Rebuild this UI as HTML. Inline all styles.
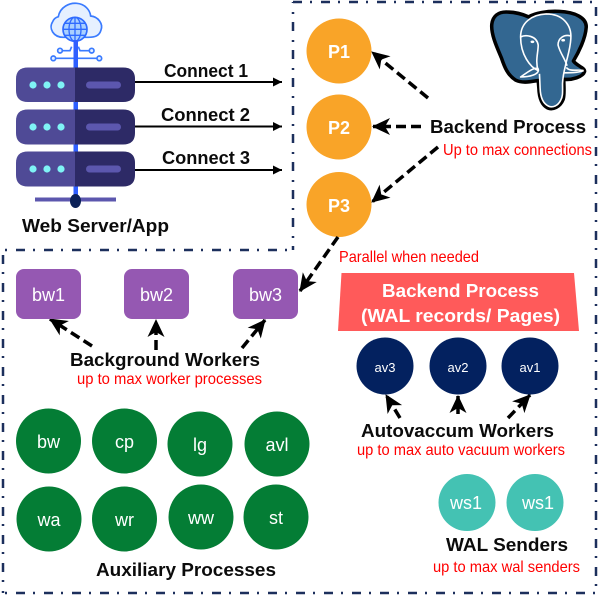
<!DOCTYPE html>
<html><head><meta charset="utf-8"><style>
html,body{margin:0;padding:0;background:#fff}
svg{display:block}
text{font-family:"Liberation Sans",sans-serif}
.b{font-weight:bold;fill:#0b0b0b;font-size:18px}
.r{fill:#f00;font-size:16px}
.w{fill:#fff;text-anchor:middle;font-size:18px}
</style></head><body>
<svg width="600" height="596" viewBox="0 0 600 596" xmlns="http://www.w3.org/2000/svg">
<defs>
<marker id="a" markerUnits="userSpaceOnUse" markerWidth="24" markerHeight="24" refX="19" refY="12" orient="auto"><path d="M20,12L2,3.500L7,12L2,20.500Z" fill="#000"/></marker>
<marker id="t" markerUnits="userSpaceOnUse" markerWidth="12" markerHeight="12" refX="10" refY="6" orient="auto"><path d="M10,6L1,1.500V10.500Z" fill="#000"/></marker>
</defs>

<!-- dashed frame -->
<g fill="none" stroke="#1c2f5c" stroke-width="2.500" stroke-dasharray="9 8 2 9">
<path d="M293,250V2" stroke-dashoffset="5"/>
<path d="M293,2H596"/>
<path d="M596,2V593" stroke-dashoffset="23"/>
<path d="M3,593H596" stroke-dashoffset="15"/>
<path d="M3,250V593" stroke-dashoffset="23"/>
<path d="M3,250H293" stroke-dashoffset="15"/>
</g>

<!-- cloud + globe -->
<g transform="translate(40,0) scale(0.3333)">
<path d="M70,112C40,112 25,85 38,65C42,55 48,52 55,50C60,20 90,8 110,10C135,12 150,30 152,48C175,50 190,72 183,90C178,108 165,112 145,112Z" fill="#e6f0ff" stroke="#3a7bff" stroke-width="5"/>
<path d="M95,140L90,152H66M115,140L120,152H149M46,175H178" fill="none" stroke="#3a7bff" stroke-width="5"/>
<g fill="#e6f0ff" stroke="#3a7bff" stroke-width="5"><circle cx="60" cy="152" r="7"/><circle cx="155" cy="152" r="7"/><circle cx="40" cy="175" r="7"/><circle cx="178" cy="175" r="7"/></g>
<circle cx="105" cy="88" r="36" fill="#a9d0ff" stroke="#2f6bff" stroke-width="5"/>
<path d="M105,52V124M69,88H141M75,70H135M75,106H135" stroke="#2f6bff" stroke-width="4" fill="none"/>
<ellipse cx="105" cy="88" rx="18" ry="36" fill="none" stroke="#2f6bff" stroke-width="4"/>
</g>
<rect x="73.500" y="40" width="4.500" height="159" fill="#2f5fff"/>

<!-- server -->
<g>
<path d="M75,67.500H28Q16,67.500 16,79V90.500Q16,102 28,102H75Z" fill="#4f4a96"/>
<path d="M75,67.500H123Q135,67.500 135,79V90.500Q135,102 123,102H75Z" fill="#2d2a66"/>
<circle cx="33" cy="85" r="3.600" fill="#7ff3f5"/><circle cx="47" cy="85" r="3.600" fill="#7ff3f5"/><circle cx="61" cy="85" r="3.600" fill="#7ff3f5"/>
<rect x="86" y="81.500" width="35" height="7" rx="3.500" fill="#5c57ae"/>
</g>
<g>
<path d="M75,109.500H28Q16,109.500 16,121V133Q16,144.500 28,144.500H75Z" fill="#4f4a96"/>
<path d="M75,109.500H123Q135,109.500 135,121V133Q135,144.500 123,144.500H75Z" fill="#2d2a66"/>
<circle cx="33" cy="127" r="3.600" fill="#7ff3f5"/><circle cx="47" cy="127" r="3.600" fill="#7ff3f5"/><circle cx="61" cy="127" r="3.600" fill="#7ff3f5"/>
<rect x="86" y="123.500" width="35" height="7" rx="3.500" fill="#5c57ae"/>
</g>
<g>
<path d="M75,151.500H28Q16,151.500 16,163V175Q16,186.500 28,186.500H75Z" fill="#4f4a96"/>
<path d="M75,151.500H123Q135,151.500 135,163V175Q135,186.500 123,186.500H75Z" fill="#2d2a66"/>
<circle cx="33" cy="169" r="3.600" fill="#7ff3f5"/><circle cx="47" cy="169" r="3.600" fill="#7ff3f5"/><circle cx="61" cy="169" r="3.600" fill="#7ff3f5"/>
<rect x="86" y="165.500" width="35" height="7" rx="3.500" fill="#5c57ae"/>
</g>
<rect x="35" y="197.500" width="81" height="4" fill="#5c57ae"/>
<ellipse cx="75.500" cy="201" rx="5.500" ry="7" fill="#0b2158"/>

<!-- connect arrows -->
<g stroke="#000" stroke-width="2" fill="none">
<path d="M135,82H282" marker-end="url(#t)"/>
<path d="M135,126.500H282" marker-end="url(#t)"/>
<path d="M135,170H282" marker-end="url(#t)"/>
</g>
<text class="b" x="164" y="77" textLength="84" lengthAdjust="spacingAndGlyphs">Connect 1</text>
<text class="b" x="161" y="121" textLength="89" lengthAdjust="spacingAndGlyphs">Connect 2</text>
<text class="b" x="162" y="164" textLength="88" lengthAdjust="spacingAndGlyphs">Connect 3</text>
<text class="b" x="22" y="232" textLength="147" lengthAdjust="spacingAndGlyphs">Web Server/App</text>

<!-- elephant -->
<g transform="translate(487,5) scale(0.32)" stroke-linejoin="round">
<path d="M15,60C18,35 35,22 60,22C85,22 110,28 130,37C150,25 190,18 225,20C275,22 312,40 310,70C308,105 285,150 270,175C280,190 305,195 305,208C300,225 265,235 240,232C240,255 243,280 238,295C228,320 205,328 190,322C170,312 163,290 162,260L160,236C135,240 110,245 90,235C65,220 55,195 45,165C30,130 12,90 15,60Z" fill="#336791" stroke="#000" stroke-width="11"/>
<g fill="none" stroke="#fff" stroke-width="5">
<path d="M160,205C135,195 105,155 105,100C105,55 140,30 185,28C235,28 265,60 262,105C260,140 250,165 245,190C240,210 237,225 236,245C236,270 238,285 230,298C222,315 205,322 192,316C175,308 167,290 166,260L164,215"/>
<path d="M105,100C120,92 155,95 160,125C160,150 150,175 160,205"/>
<path d="M262,97C240,90 222,105 222,125C228,150 245,170 250,190"/>
<path d="M105,225C130,225 165,218 160,200C150,190 120,215 105,225Z"/>
<path d="M248,195C258,210 285,200 302,205"/>
<path d="M240,212C260,212 285,212 302,205"/>
</g>
<ellipse cx="142" cy="115" rx="6" ry="4" fill="#fff"/><ellipse cx="238" cy="110" rx="6" ry="4" fill="#fff"/>
</g>

<!-- P circles -->
<circle cx="339" cy="51" r="32.500" fill="#f9a428"/>
<circle cx="339" cy="127" r="32.500" fill="#f9a428"/>
<circle cx="339" cy="204.500" r="32.500" fill="#f9a428"/>
<text class="w" x="339" y="58" font-weight="bold">P1</text>
<text class="w" x="339" y="134" font-weight="bold">P2</text>
<text class="w" x="339" y="212" font-weight="bold">P3</text>

<!-- dashed arrows -->
<g stroke="#000" stroke-width="3.500" stroke-dasharray="10 5" fill="none">
<path d="M428,98L372,52" marker-end="url(#a)"/>
<path d="M421,126.500H373" marker-end="url(#a)"/>
<path d="M438,147L372,202" marker-end="url(#a)"/>
<path d="M338,237L300,291" marker-end="url(#a)"/>
<path d="M92,346L50,319" marker-end="url(#a)"/>
<path d="M156,350V320" marker-end="url(#a)"/>
<path d="M242,348L265,320" marker-end="url(#a)"/>
<path d="M400,418L386,395" marker-end="url(#a)"/>
<path d="M458,414V396" marker-end="url(#a)" stroke-dasharray="none"/>
<path d="M508,418L530,395" marker-end="url(#a)"/>
</g>

<text class="b" x="430" y="133" textLength="156" lengthAdjust="spacingAndGlyphs">Backend Process</text>
<text class="r" x="443" y="155" textLength="149" lengthAdjust="spacingAndGlyphs">Up to max connections</text>
<text class="r" x="339" y="262" textLength="140" lengthAdjust="spacingAndGlyphs">Parallel when needed</text>

<!-- bw boxes -->
<rect x="16" y="269" width="65" height="50" rx="8" fill="#9558b2"/>
<rect x="124" y="269" width="65" height="50" rx="8" fill="#9558b2"/>
<rect x="233" y="269" width="65" height="50" rx="8" fill="#9558b2"/>
<text class="w" x="48.500" y="301">bw1</text>
<text class="w" x="156.500" y="301">bw2</text>
<text class="w" x="265.500" y="301">bw3</text>
<text class="b" x="70" y="366" textLength="190" lengthAdjust="spacingAndGlyphs">Background Workers</text>
<text class="r" x="77" y="384" textLength="185" lengthAdjust="spacingAndGlyphs">up to max worker processes</text>

<!-- green circles -->
<g fill="#047d35">
<circle cx="48.500" cy="441" r="32.500"/><circle cx="124.500" cy="441" r="32.500"/><circle cx="200" cy="444" r="32.500"/><circle cx="277" cy="444" r="32.500"/>
<circle cx="49" cy="519" r="32.500"/><circle cx="124.500" cy="519" r="32.500"/><circle cx="201" cy="517" r="32.500"/><circle cx="276" cy="517" r="32.500"/>
</g>
<text class="w" x="48.500" y="448">bw</text><text class="w" x="124.500" y="448">cp</text><text class="w" x="200" y="451">lg</text><text class="w" x="277" y="451">avl</text>
<text class="w" x="49" y="526">wa</text><text class="w" x="124.500" y="526">wr</text><text class="w" x="201" y="524">ww</text><text class="w" x="276" y="524">st</text>
<text class="b" x="96" y="576" textLength="180" lengthAdjust="spacingAndGlyphs">Auxiliary Processes</text>

<!-- trapezoid -->
<path d="M341.500,273H574L579,331H338Z" fill="#ff5a5a"/>
<text class="b" x="382" y="297" textLength="157" lengthAdjust="spacingAndGlyphs" style="fill:#fff">Backend Process</text>
<text class="b" x="361" y="322" textLength="199" lengthAdjust="spacingAndGlyphs" style="fill:#fff">(WAL records/ Pages)</text>

<!-- av -->
<g fill="#03215f"><circle cx="385" cy="366" r="28.500"/><circle cx="458" cy="366" r="28.500"/><circle cx="530" cy="366" r="28.500"/></g>
<text class="w" x="385" y="372" style="font-size:13px">av3</text>
<text class="w" x="458" y="372" style="font-size:13px">av2</text>
<text class="w" x="530" y="372" style="font-size:13px">av1</text>
<text class="b" x="361" y="437" textLength="193" lengthAdjust="spacingAndGlyphs">Autovaccum Workers</text>
<text class="r" x="357" y="455" textLength="208" lengthAdjust="spacingAndGlyphs">up to max auto vacuum workers</text>

<!-- ws -->
<g fill="#44c2b3"><circle cx="467" cy="502.500" r="28.500"/><circle cx="535" cy="502.500" r="28.500"/></g>
<text class="w" x="466" y="509">ws1</text>
<text class="w" x="538" y="509">ws1</text>
<text class="b" x="446" y="551" textLength="122" lengthAdjust="spacingAndGlyphs">WAL Senders</text>
<text class="r" x="433" y="572" textLength="147" lengthAdjust="spacingAndGlyphs">up to max wal senders</text>
</svg>
</body></html>
